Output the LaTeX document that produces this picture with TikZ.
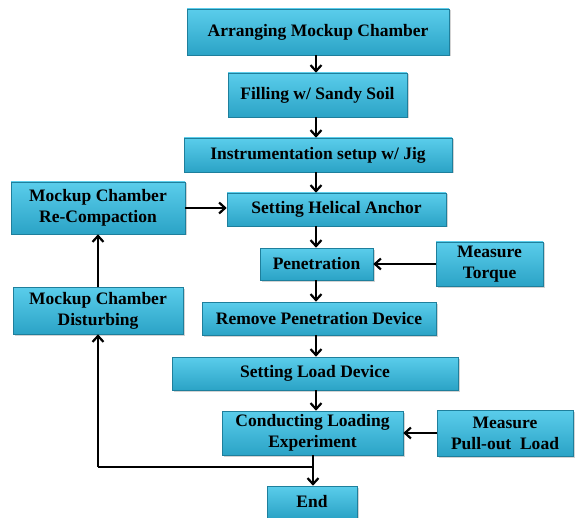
\documentclass[tikz,border=0pt]{standalone}
\usepackage{fontspec}
\setmainfont{Liberation Serif}
\usetikzlibrary{arrows.meta,shadows}
\definecolor{boxtop}{HTML}{5ACDEB}
\definecolor{boxbot}{HTML}{2BA3C6}
\definecolor{boxline}{HTML}{1E7F9C}
\tikzset{
  fbox/.style={draw=boxline, line width=0.6pt, top color=boxtop, bottom color=boxbot,
    drop shadow={shadow xshift=1.5pt, shadow yshift=-1.5pt, opacity=0.35},
    font=\fontsize{17.5}{21}\selectfont\bfseries, align=center, inner sep=0pt},
  conn/.style={line width=2.2pt, -{Straight Barb[length=6pt,width=11pt,line width=2.2pt]}},
  plain/.style={line width=2.2pt}
}
\newcommand{\bx}[6]{% name, x1, y1, x2, y2, text
  \node[fbox, minimum width={(#4-#2)*1pt}, minimum height={(#5-#3)*1pt}] (#1) at ({(#2+#4)/2pt}, {-(#3+#5)/2pt}) {#6};}
\begin{document}
\begin{tikzpicture}[x=1pt,y=1pt]
\useasboundingbox (0,0) rectangle (577,-518);
\bx{a}{187}{9}{449}{55}{Arranging Mockup Chamber}
\bx{b}{228}{73}{407}{117}{Filling w/ Sandy Soil}
\bx{c}{184}{138}{452}{172}{Instrumentation setup w/ Jig}
\bx{d}{227}{193}{446}{226}{Setting Helical Anchor}
\bx{rc}{11}{182}{185}{234}{Mockup Chamber\\Re-Compaction}
\bx{e}{260}{248}{373}{280}{Penetration}
\bx{mt}{436}{242}{543}{286}{Measure\\Torque}
\bx{f}{202}{302}{436}{335}{Remove Penetration Device}
\bx{md}{13}{287}{183}{334}{Mockup Chamber\\Disturbing}
\bx{g}{172}{357}{458}{390}{Setting Load Device}
\bx{h}{222}{411}{403}{455}{Conducting Loading\\Experiment}
\bx{mp}{437}{410}{573}{456}{Measure\\Pull-out~~Load}
\bx{end}{267}{486}{357}{518}{End}
\coordinate (loopR) at (313,-467);
\coordinate (loopL) at (98,-467);
\draw[conn] (a.south -| 316,0) -- (b.north -| 316,0);
\draw[conn] (b.south -| 316,0) -- (c.north -| 316,0);
\draw[conn] (c.south -| 316,0) -- (d.north -| 316,0);
\draw[conn] (d.south -| 316,0) -- (e.north -| 316,0);
\draw[conn] (e.south -| 316,0) -- (f.north -| 316,0);
\draw[conn] (f.south -| 316,0) -- (g.north -| 316,0);
\draw[conn] (g.south -| 316,0) -- (h.north -| 316,0);
\draw[conn] (h.south -| 313,0) -- (end.north -| 313,0);
\draw[conn] (mt.west) -- (e.east);
\draw[conn] (mp.west) -- (h.east);
\draw[conn] (rc.east |- 0,-208) -- (d.west |- 0,-208);
\draw[conn] (md.north -| 98,0) -- (rc.south -| 98,0);
\draw[plain] (loopR) -- (loopL);
\draw[conn] (loopL) -- (md.south -| 98,0);
\end{tikzpicture}
\end{document}
